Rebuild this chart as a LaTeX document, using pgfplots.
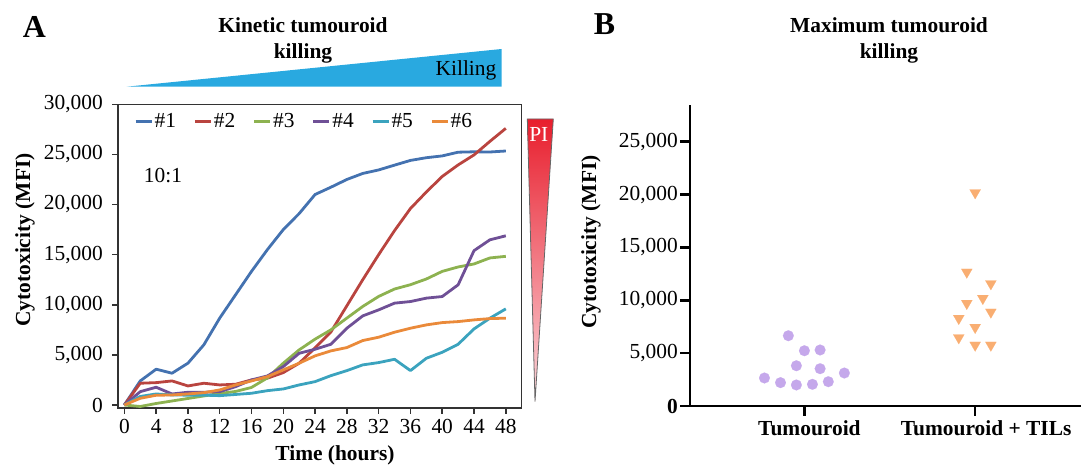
\documentclass[border=0pt]{standalone}
\usepackage{fontspec}
\setmainfont{Liberation Serif}
\usepackage{pgfplots}
\pgfplotsset{compat=1.18}
\definecolor{c1}{RGB}{68,114,176}
\definecolor{c2}{RGB}{185,68,63}
\definecolor{c3}{RGB}{141,178,80}
\definecolor{c4}{RGB}{111,80,150}
\definecolor{c5}{RGB}{59,163,190}
\definecolor{c6}{RGB}{234,138,58}
\definecolor{kblue}{RGB}{41,169,224}
\definecolor{lav}{RGB}{197,168,235}
\definecolor{lorange}{RGB}{249,174,114}
\definecolor{pitop}{RGB}{232,30,45}
\definecolor{pimid}{RGB}{242,115,125}
\definecolor{pibot}{RGB}{252,215,220}
\begin{document}
\fontsize{21.5}{25}\selectfont
\begin{tikzpicture}[x=1bp,y=1bp]
\useasboundingbox (0,0) rectangle (1082,468);
% ---- panel A header
\node[font=\bfseries\fontsize{32}{34}\selectfont] at (34.5,441) {A};
\node[font=\bfseries, anchor=base] at (303,435.7) {Kinetic tumouroid};
\node[font=\bfseries, anchor=base] at (303,409.5) {killing};
\fill[kblue] (126.7,381.3) -- (501.7,419) -- (501.7,381.3) -- cycle;
\node[anchor=base] at (466,392.7) {Killing};
% ---- PI triangle
\shade[top color=pitop, middle color=pimid, bottom color=pibot, draw=black!60, line width=0.8bp]
  (527.3,349) -- (553.3,349) -- (535,66.3) -- cycle;
\node[text=white] at (538.8,334) {PI};
% ---- panel A axis
\begin{axis}[
  at={(118bp,60bp)}, anchor=south west, scale only axis,
  width=403.7bp, height=303.7bp,
  xmin=-0.8, xmax=50, ymin=-300, ymax=30000,
  xtick={0,4,...,48}, ytick={0,5000,...,30000},
  scaled y ticks=false,
  /pgf/number format/.cd, fixed, 1000 sep={,}, assume math mode=true,
  /pgfplots/.cd,
  tick align=outside, major tick length=6bp,
  xtick pos=bottom, ytick pos=left,
  axis line style={draw=black!80, line width=1.5bp},
  tick style={draw=black!80, line width=1.5bp},
  yticklabel style={inner sep=0pt, xshift=-9bp},
  xticklabel style={inner sep=0pt, yshift=-5bp},
  legend columns=6,
  legend style={draw=none, fill=none, inner sep=0pt, at={(0.04,0.943)}, anchor=west,
     nodes={inner xsep=1.5bp, inner ysep=1bp},
     /tikz/every even column/.append style={column sep=16bp}},
  legend image code/.code={\draw[#1] (0bp,0bp) -- (16bp,0bp);},
  every axis plot/.append style={line width=2.8bp, line join=round},
]
\addplot[c1] coordinates {(0,0)(2,2400)(4,3570)(6,3170)(8,4170)(10,6000)(12,8670)(14,11000)(16,13330)(18,15500)(20,17500)(22,19100)(24,21000)(26,21730)(28,22500)(30,23100)(32,23450)(34,23930)(36,24400)(38,24670)(40,24850)(42,25220)(44,25260)(46,25240)(48,25340)};
\addlegendentry{\#1}
\addplot[c2] coordinates {(0,0)(2,2170)(4,2230)(6,2400)(8,1900)(10,2170)(12,2000)(14,2070)(16,2500)(18,2670)(20,3230)(22,4170)(24,5700)(26,7300)(28,9900)(30,12500)(32,15000)(34,17400)(36,19600)(38,21250)(40,22800)(42,23950)(44,24950)(46,26300)(48,27600)};
\addlegendentry{\#2}
\addplot[c3] coordinates {(0,0)(2,-150)(4,150)(6,400)(8,650)(10,900)(12,1150)(14,1350)(16,1750)(18,2700)(20,4170)(22,5500)(24,6570)(26,7500)(28,8670)(30,9830)(32,10830)(34,11570)(36,12000)(38,12570)(40,13330)(42,13770)(44,14070)(46,14670)(48,14830)};
\addlegendentry{\#3}
\addplot[c4] coordinates {(0,0)(2,1330)(4,1770)(6,1100)(8,1270)(10,1270)(12,1330)(14,1830)(16,2500)(18,2900)(20,3830)(22,5160)(24,5560)(26,6060)(28,7660)(30,8890)(32,9490)(34,10160)(36,10320)(38,10660)(40,10820)(42,11990)(44,15400)(46,16480)(48,16880)};
\addlegendentry{\#4}
\addplot[c5] coordinates {(0,0)(2,850)(4,1100)(6,1000)(8,980)(10,980)(12,930)(14,1050)(16,1170)(18,1430)(20,1600)(22,2000)(24,2330)(26,2930)(28,3430)(30,4000)(32,4230)(34,4560)(36,3430)(38,4660)(40,5260)(42,6060)(44,7590)(46,8660)(48,9590)};
\addlegendentry{\#5}
\addplot[c6] coordinates {(0,0)(2,670)(4,970)(6,1000)(8,1100)(10,1230)(12,1500)(14,2000)(16,2400)(18,2830)(20,3500)(22,4170)(24,4900)(26,5400)(28,5730)(30,6430)(32,6760)(34,7260)(36,7660)(38,7990)(40,8220)(42,8320)(44,8490)(46,8620)(48,8660)};
\addlegendentry{\#6}
\node at (axis cs:4.86,22880) {10:1};
\end{axis}
\node[font=\bfseries, anchor=base] at (335,7) {Time (hours)};
\node[font=\bfseries, rotate=90] at (25,228) {Cytotoxicity (MFI)};
% ---- panel B header
\node[font=\bfseries\fontsize{32}{34}\selectfont] at (604.5,444) {B};
\node[font=\bfseries, anchor=base] at (889,435.7) {Maximum tumouroid};
\node[font=\bfseries, anchor=base] at (889,409.5) {killing};
% ---- panel B axis
\begin{axis}[
  at={(690bp,62bp)}, anchor=south west, scale only axis,
  width=391bp, height=301bp,
  xmin=0.33, xmax=2.62, ymin=0, ymax=28480,
  scaled y ticks=false,
  axis lines=left,
  axis line style={-, draw=black, line width=2.6bp},
  tick style={draw=black, line width=2.6bp},
  tick align=outside, major tick length=10bp,
  xtick={1,2}, xticklabels={Tumouroid, \hspace*{12bp}Tumouroid + TILs},
  ytick={0,5000,...,25000},
  yticklabels={\textbf{0},{5,000},{10,000},{15,000},{20,000},{25,000}},
  xticklabel style={font=\bfseries, inner sep=0pt, yshift=-4bp, xshift=5bp},
  yticklabel style={inner sep=0pt, xshift=-2bp},
  clip=false,
]
\addplot[only marks, mark=*, mark size=5.4bp, color=lav, mark options={draw=lav, fill=lav, line width=0.1bp}]
 coordinates {(0.906,6650)(1.0,5230)(1.092,5300)(0.953,3810)(1.092,3530)(0.766,2650)(0.86,2210)(0.953,1990)(1.047,2050)(1.14,2300)(1.234,3120)};
\addplot[only marks, mark=triangle*, mark size=6.4bp, color=lorange, mark options={rotate=180, draw=lorange, fill=lorange, line width=0.1bp}]
 coordinates {(2.0,20180)(1.951,12670)(2.092,11570)(1.951,9710)(2.045,10180)(2.092,8890)(1.904,8290)(2.0,7440)(1.904,6460)(2.0,5760)(2.092,5760)};
\end{axis}
\node[font=\bfseries, rotate=90] at (591,226) {Cytotoxicity (MFI)};
\end{tikzpicture}
\end{document}
